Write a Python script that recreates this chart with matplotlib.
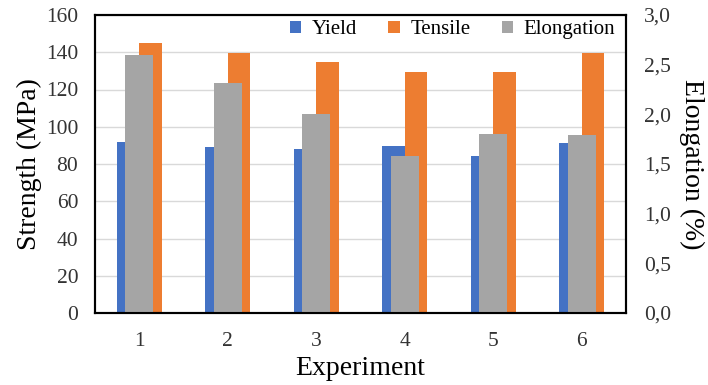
import matplotlib
matplotlib.use("Agg")
import matplotlib.pyplot as plt
import matplotlib.ticker as mticker
import numpy as np

experiments = ["1", "2", "3", "4", "5", "6"]
yield_mpa = [92, 89, 88, 89.5, 84.5, 91.5]
tensile_mpa = [145, 139.5, 135, 129.5, 129.5, 139.5]
elongation_pct = [2.6, 2.32, 2.0, 1.58, 1.8, 1.79]

BLUE = "#4472C4"
ORANGE = "#ED7D31"
GRAY = "#A5A5A5"

plt.rcParams["font.family"] = ["Liberation Serif", "DejaVu Serif"]

fig = plt.figure(figsize=(7.08, 3.85), dpi=100)
ax = fig.add_axes([95 / 708, 1 - 313 / 385, (626 - 95) / 708, (313 - 15) / 385])
ax2 = ax.twinx()

x = np.arange(len(experiments))
w = 0.254
ax.bar(x - w / 2, yield_mpa, w, color=BLUE, label="Yield", zorder=2)
ax.bar(x + w / 2, tensile_mpa, w, color=ORANGE, label="Tensile", zorder=2)
ax2.bar(x, elongation_pct, 0.316, color=GRAY, label="Elongation", zorder=2)

ax.set_xlim(-0.5, len(experiments) - 0.5)
ax.set_ylim(0, 160)
ax.set_yticks(range(0, 161, 20))
ax2.set_ylim(0, 3.0)
ax2.set_yticks(np.arange(0, 3.01, 0.5))
ax2.yaxis.set_major_formatter(
    mticker.FuncFormatter(lambda v, p: f"{v:.1f}".replace(".", ",")))

ax.set_xticks(x)
ax.set_xticklabels(experiments)
ax.yaxis.grid(True, color="#D9D9D9", linewidth=1, zorder=0)
ax.set_axisbelow(True)

for a in (ax, ax2):
    a.tick_params(length=0, labelsize=15.5, colors="#333333")
    for s in a.spines.values():
        s.set_linewidth(1.5)
        s.set_color("black")
ax.tick_params(axis="y", pad=12)
ax.tick_params(axis="x", pad=14)
ax2.tick_params(axis="y", pad=13)

ax.set_xlabel("Experiment", fontsize=20, labelpad=3)
ax.set_ylabel("Strength (MPa)", fontsize=20, labelpad=3)
ax2.set_ylabel("Elongation (%)", fontsize=20, rotation=270, labelpad=24)

handles = ax.get_legend_handles_labels()[0] + ax2.get_legend_handles_labels()[0]
labels = ["Yield", "Tensile", "Elongation"]
ax.legend(handles, labels, loc="upper right", ncol=3, frameon=False,
          fontsize=15, handlelength=0.55, handleheight=0.55, handletextpad=0.5,
          columnspacing=1.5, borderaxespad=0.0, bbox_to_anchor=(0.995, 1.01))
ax.get_legend().set_zorder(5)

fig.savefig("out.png", dpi=100)
